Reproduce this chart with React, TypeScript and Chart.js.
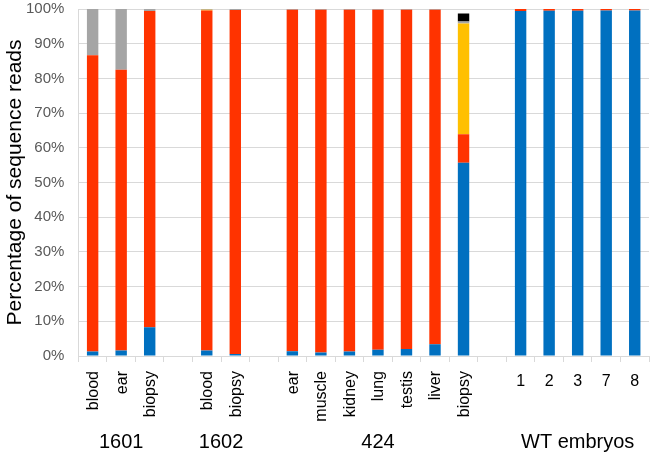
import React, { useEffect, useRef } from "react";
import { Chart, registerables } from "chart.js";

Chart.register(...registerables);

const categories = [
  "blood", "ear", "biopsy", "",
  "blood", "biopsy", "",
  "ear", "muscle", "kidney", "lung", "testis", "liver", "biopsy", "",
  "1", "2", "3", "7", "8",
];

const groupNames = ["1601", "1602", "424", "WT embryos"];
const groupFirst = [0, 4, 7, 15];
const groupLast = [2, 5, 13, 19];

const blueValues = [1.3, 1.6, 8.3, null, 1.6, 0.6, null, 1.4, 1.0, 1.3, 1.8, 2.0, 3.4, 55.7, null, 99.4, 99.5, 99.5, 99.6, 99.6];
const redValues = [85.4, 80.9, 91.1, null, 98.0, 99.1, null, 98.4, 98.8, 98.5, 98.0, 97.8, 96.4, 8.2, null, 0.6, 0.5, 0.5, 0.4, 0.4];
const yellowValues = [0, 0, 0, null, 0.2, 0, null, 0, 0, 0, 0, 0, 0, 31.9, null, 0, 0, 0, 0, 0];
const grayValues = [13.3, 17.5, 0.6, null, 0.2, 0.3, null, 0.2, 0.2, 0.2, 0.2, 0.2, 0.2, 0.6, null, 0, 0, 0, 0, 0];
const blackValues = [0, 0, 0, null, 0, 0, null, 0, 0, 0, 0, 0, 0, 2.3, null, 0, 0, 0, 0, 0];

const yTicks = [0, 10, 20, 30, 40, 50, 60, 70, 80, 90, 100];

const FONT = '"Liberation Sans", Arial, sans-serif';

const labelPlugin = {
  id: "customLabels",
  afterDraw(chart: any) {
    const ctx = chart.ctx;
    const x = chart.scales.x;
    const top = chart.chartArea.bottom + 15;
    ctx.save();
    ctx.fillStyle = "#000000";
    ctx.font = `16px ${FONT}`;
    categories.forEach((lab, i) => {
      if (!lab) return;
      const px = x.getPixelForValue(i);
      if (/^\d+$/.test(lab)) {
        ctx.textAlign = "center";
        ctx.textBaseline = "alphabetic";
        ctx.fillText(lab, px, top + 15);
      } else {
        ctx.save();
        ctx.translate(px + 1, top);
        ctx.rotate(-Math.PI / 2);
        ctx.textAlign = "right";
        ctx.textBaseline = "middle";
        ctx.fillText(lab, 0, 0);
        ctx.restore();
      }
    });
    ctx.font = `20px ${FONT}`;
    ctx.textAlign = "center";
    ctx.textBaseline = "alphabetic";
    groupNames.forEach((g, i) => {
      const cx = (x.getPixelForValue(groupFirst[i]) + x.getPixelForValue(groupLast[i])) / 2;
      ctx.fillText(g, cx, chart.chartArea.bottom + 92);
    });
    ctx.restore();
  },
};

export default function App() {
  const ref = useRef<HTMLCanvasElement>(null);
  useEffect(() => {
    if (!ref.current) return;
    const mk = (label: string, data: any[], color: string) => ({
      label,
      data,
      backgroundColor: color,
      borderWidth: 0,
      barPercentage: 0.4,
      categoryPercentage: 1,
    });
    const chart = new Chart(ref.current, {
      type: "bar",
      data: {
        labels: categories,
        datasets: [
          mk("Unmodified", blueValues, "#0070C0"),
          mk("Edited", redValues, "#FF3300"),
          mk("Other A", yellowValues, "#FFC000"),
          mk("Other B", grayValues, "#A5A5A5"),
          mk("Other C", blackValues, "#000000"),
        ],
      },
      options: {
        responsive: false,
        animation: false,
        layout: { padding: { top: 0, right: 1, bottom: 92, left: 5 } },
        plugins: { legend: { display: false }, tooltip: { enabled: false } },
        scales: {
          x: {
            stacked: true,
            ticks: { display: false },
            grid: { drawOnChartArea: false, drawTicks: true, tickLength: 6, color: "#D9D9D9", offset: true },
            border: { color: "#D9D9D9" },
          },
          y: {
            stacked: true,
            min: 0,
            max: 100,
            afterBuildTicks: (s: any) => { s.ticks = yTicks.map((v) => ({ value: v })); },
            ticks: {
              callback: (v: any) => v + "%",
              color: "#595959",
              font: { family: FONT, size: 15 },
              padding: 0,
            },
            grid: { color: "#D9D9D9", drawTicks: true, tickLength: 14, tickColor: "rgba(0,0,0,0)" },
            border: { color: "#D9D9D9" },
            title: {
              display: true,
              text: "Percentage of sequence reads",
              color: "#000000",
              font: { family: FONT, size: 21, lineHeight: 1.0 },
              padding: 0,
            },
          },
        },
      },
      plugins: [labelPlugin],
    });
    return () => chart.destroy();
  }, []);
  return (
    <div style={{ position: "fixed", left: 0, top: 0, width: 650, height: 454, background: "#fff" }}>
      <canvas ref={ref} width={650} height={454} />
    </div>
  );
}
